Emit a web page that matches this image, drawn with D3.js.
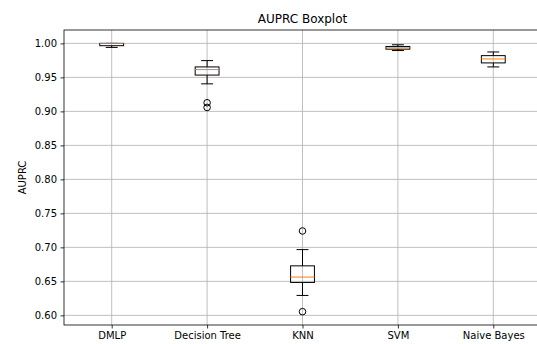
<!DOCTYPE html>
<html>
<head>
<meta charset="utf-8">
<script src="https://cdn.jsdelivr.net/npm/d3@7"></script>
<style>
  body { margin: 0; background: #fff; }
  svg { display: block; font-family: "DejaVu Sans", sans-serif; }
</style>
</head>
<body>
<script>
// Box statistics
const models = ['DMLP', 'Decision Tree', 'KNN', 'SVM', 'Naive Bayes'];
const whiskerLow = [0.9941, 0.9405, 0.6293, 0.9895, 0.9654];
const q1 = [0.9966, 0.9534, 0.6484, 0.9915, 0.9713];
const median = [1.0, 0.9615, 0.6563, 0.9935, 0.9771];
const q3 = [1.0, 0.9654, 0.6728, 0.9955, 0.9820];
const whiskerHigh = [1.0, 0.9747, 0.6967, 0.9980, 0.9874];
const outliers = [[], [0.9127, 0.9058], [0.7241, 0.6054], [], []];
const yTicks = [0.60, 0.65, 0.70, 0.75, 0.80, 0.85, 0.90, 0.95, 1.00];

const W = 537, H = 344;
const m = { left: 64, right: 541, top: 30, bottom: 325 };

const svg = d3.select('body').append('svg')
    .attr('width', W)
    .attr('height', H);

const x = d3.scaleLinear().domain([0.5, 5.5]).range([m.left, m.right]);
const y = d3.scaleLinear().domain([0.5858, 1.0197]).range([m.bottom, m.top]);

// grid
svg.append('g').selectAll('line')
    .data(yTicks)
    .enter().append('line')
    .attr('x1', m.left).attr('x2', m.right)
    .attr('y1', d => y(d)).attr('y2', d => y(d))
    .attr('stroke', '#b0b0b0').attr('stroke-width', 0.8);

svg.append('g').selectAll('line')
    .data(models)
    .enter().append('line')
    .attr('x1', (d, i) => x(i + 1)).attr('x2', (d, i) => x(i + 1))
    .attr('y1', m.top).attr('y2', m.bottom)
    .attr('stroke', '#b0b0b0').attr('stroke-width', 0.8);

// axes
const yAxis = svg.append('g')
    .attr('transform', `translate(${m.left},0)`)
    .call(d3.axisLeft(y).tickValues(yTicks).tickFormat(d3.format('.2f')).tickSize(3.5).tickPadding(3.5));

const xAxis = svg.append('g')
    .attr('transform', `translate(0,${m.bottom})`)
    .call(d3.axisBottom(x).tickValues([1, 2, 3, 4, 5]).tickFormat(d => models[d - 1]).tickSize(3.5).tickPadding(3.5));

[xAxis, yAxis].forEach(a => {
    a.select('.domain').remove();
    a.selectAll('.tick line').attr('stroke', '#000').attr('stroke-width', 0.8);
    a.selectAll('.tick text').attr('fill', '#000').style('font-size', '10px')
        .style('font-family', '"DejaVu Sans", sans-serif');
});

// spines
svg.append('rect')
    .attr('x', m.left).attr('y', m.top)
    .attr('width', m.right - m.left).attr('height', m.bottom - m.top)
    .attr('fill', 'none').attr('stroke', '#000').attr('stroke-width', 0.8);

// boxes
const boxW = x(1.25) - x(1);
const capW = boxW / 2;

svg.selectAll('.box')
    .data(models)
    .enter().append('g')
    .attr('class', 'box')
    .each(function(d, i) {
        const el = d3.select(this);
        const cx = x(i + 1);
        // whiskers
        el.append('line')
            .attr('x1', cx).attr('x2', cx)
            .attr('y1', y(q1[i])).attr('y2', y(whiskerLow[i]))
            .attr('stroke', '#000').attr('stroke-width', 1);
        el.append('line')
            .attr('x1', cx).attr('x2', cx)
            .attr('y1', y(q3[i])).attr('y2', y(whiskerHigh[i]))
            .attr('stroke', '#000').attr('stroke-width', 1);
        // caps
        [whiskerLow[i], whiskerHigh[i]].forEach(v => {
            el.append('line')
                .attr('x1', cx - capW / 2).attr('x2', cx + capW / 2)
                .attr('y1', y(v)).attr('y2', y(v))
                .attr('stroke', '#000').attr('stroke-width', 1);
        });
        // box
        el.append('rect')
            .attr('x', cx - boxW / 2)
            .attr('y', y(q3[i]))
            .attr('width', boxW)
            .attr('height', y(q1[i]) - y(q3[i]))
            .attr('fill', 'none')
            .attr('stroke', '#000').attr('stroke-width', 1);
        // median
        el.append('line')
            .attr('x1', cx - boxW / 2).attr('x2', cx + boxW / 2)
            .attr('y1', y(median[i])).attr('y2', y(median[i]))
            .attr('stroke', '#ff7f0e').attr('stroke-width', 1);
        // fliers
        el.selectAll('circle')
            .data(outliers[i])
            .enter().append('circle')
            .attr('cx', cx)
            .attr('cy', v => y(v))
            .attr('r', 3.3)
            .attr('fill', 'none')
            .attr('stroke', '#000').attr('stroke-width', 1);
    });

// title and label
svg.append('text')
    .attr('x', (m.left + m.right) / 2)
    .attr('y', 23)
    .attr('text-anchor', 'middle')
    .style('font-size', '12px')
    .text('AUPRC Boxplot');

svg.append('text')
    .attr('transform', `translate(26,${(m.top + m.bottom) / 2}) rotate(-90)`)
    .attr('text-anchor', 'middle')
    .style('font-size', '10px')
    .text('AUPRC');
</script>
</body>
</html>
